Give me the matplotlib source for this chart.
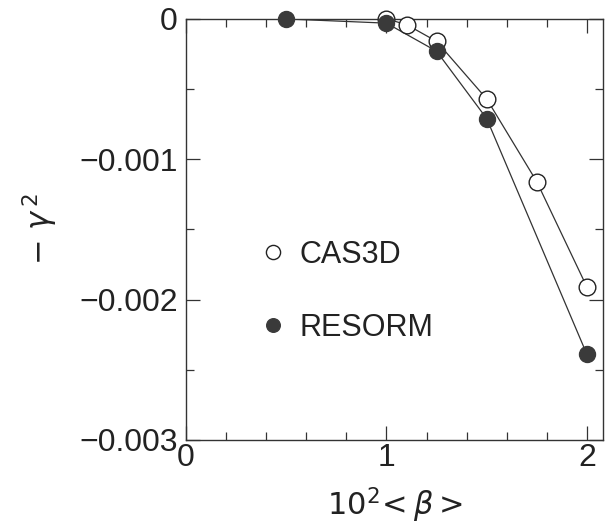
import numpy as np
import matplotlib.pyplot as plt
from matplotlib.ticker import MultipleLocator

# CAS3D (open circles)
beta_cas = [1.0, 1.1, 1.25, 1.5, 1.75, 2.0]
gam_cas = [0.0, -0.00004, -0.00016, -0.00057, -0.00116, -0.00191]

# RESORM (filled circles)
beta_res = [0.5, 1.0, 1.25, 1.5, 2.0]
gam_res = [0.0, -0.00003, -0.00023, -0.00071, -0.00239]

plt.rcParams['font.family'] = ['Liberation Sans', 'DejaVu Sans']
plt.rcParams['mathtext.fontset'] = 'dejavusans'

fig = plt.figure(figsize=(6.14, 5.26), dpi=100)
ax = fig.add_axes([0.303, 0.1635, 0.679, 0.8005])

ax.plot(beta_cas, gam_cas, '-', color='#333333', lw=0.9, zorder=2)
ax.plot(beta_cas, gam_cas, 'o', mfc='white', mec='#222222', mew=1.0, ms=12,
        clip_on=False, zorder=3, label='CAS3D')
ax.plot(beta_res, gam_res, '-', color='#333333', lw=0.9, zorder=2)
ax.plot(beta_res, gam_res, 'o', mfc='#3a3a3a', mec='#3a3a3a', ms=11.5,
        clip_on=False, zorder=4, label='RESORM')

ax.set_xlim(0, 2.08)
ax.set_ylim(-0.003, 0)
ax.xaxis.set_minor_locator(MultipleLocator(0.2))
ax.yaxis.set_minor_locator(MultipleLocator(0.0005))
ax.set_yticks([0, -0.001, -0.002, -0.003])
ax.set_yticklabels(['0', '\u22120.001', '\u22120.002', '\u22120.003'])
ax.set_xticks([0, 1, 2])
ax.set_xticklabels(['0', '1', '2'])

ax.tick_params(which='both', direction='in', top=True, right=True,
               labelsize=23, color='#333333', labelcolor='#222222')
ax.tick_params(which='major', length=10, width=0.9)
ax.tick_params(which='minor', length=6, width=0.9)
ax.tick_params(axis='x', pad=2)
ax.tick_params(axis='y', pad=6)
for s in ax.spines.values():
    s.set_linewidth(1.0)
    s.set_color('#333333')

ax.set_xlabel(r'$10^2\!<\beta>$', fontsize=22, labelpad=9, color='#222222')
ax.set_ylabel(r'$-\ \gamma^{\,2}$', fontsize=22, labelpad=14, color='#222222')

leg = ax.legend(loc='upper left', bbox_to_anchor=(0.157, 0.504), frameon=False,
                fontsize=22, markerscale=0.85, handlelength=0.6,
                handletextpad=0.58, labelspacing=1.4, numpoints=1,
                borderaxespad=0)
for t in leg.get_texts():
    t.set_color('#222222')

fig.savefig('out.png', dpi=100)
